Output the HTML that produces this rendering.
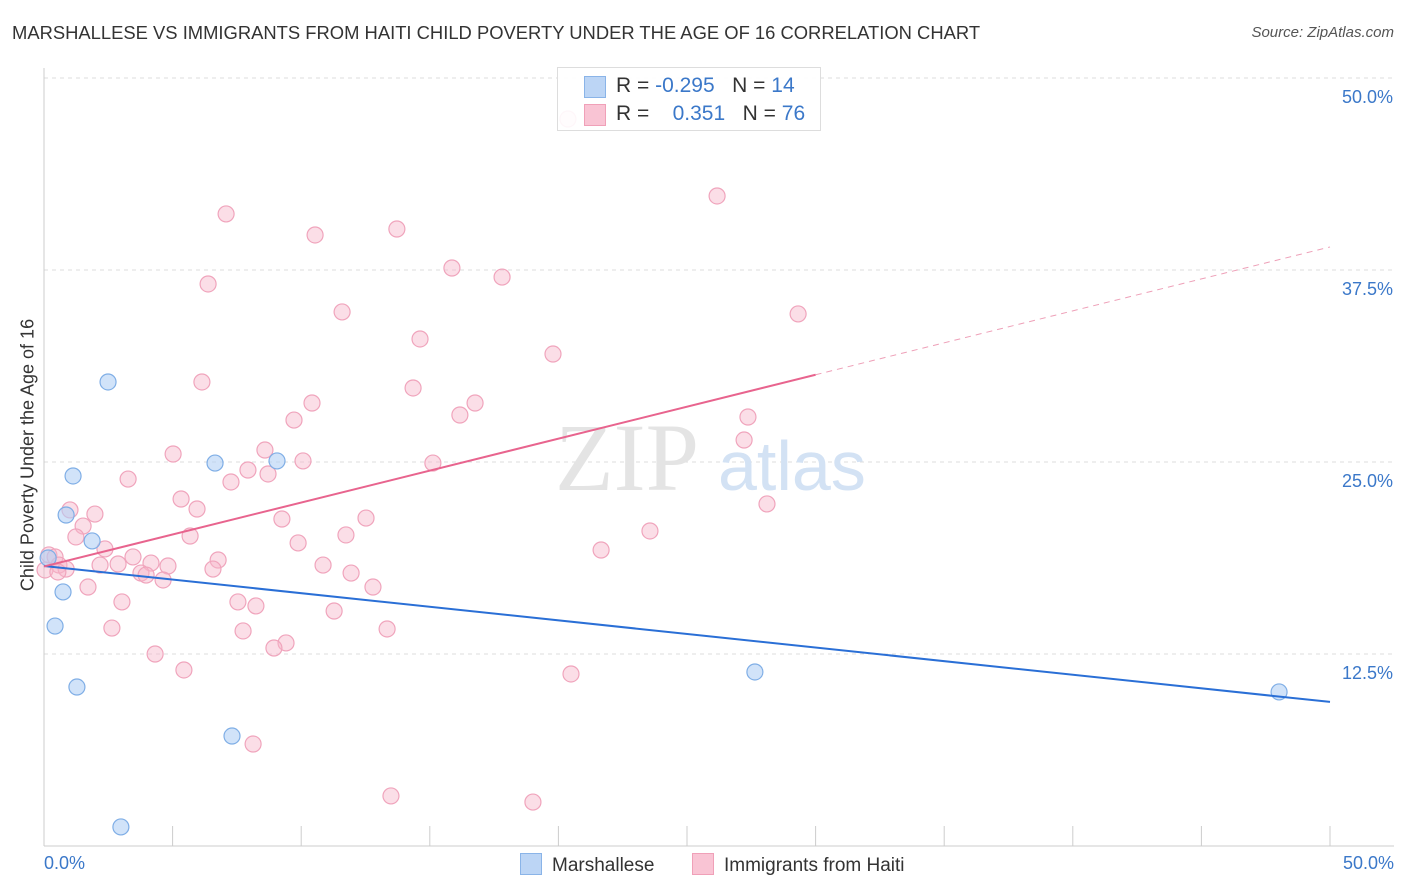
<!DOCTYPE html>
<html><head><meta charset="utf-8"><style>
body{margin:0;background:#fff;font-family:"Liberation Sans",sans-serif;}
#wrap{position:relative;width:1406px;height:892px;overflow:hidden;}
</style></head><body>
<div id="wrap">
<div style="position:absolute;left:12px;top:22px;font-size:18.4px;color:#333;">MARSHALLESE VS IMMIGRANTS FROM HAITI CHILD POVERTY UNDER THE AGE OF 16 CORRELATION CHART</div>
<div style="position:absolute;right:12px;top:24px;font-size:15px;color:#555;font-style:italic;">Source: ZipAtlas.com</div>
<svg id="svg" width="1406" height="892" style="position:absolute;left:0;top:0"></svg>
</div>
<script>
const blueX=[0.16,2.49,1.13,0.86,1.87,0.74,0.43,1.28,6.65,9.06,7.31,2.99,27.64,48.02];
const blueY=[18.75,30.21,24.09,21.55,19.86,16.54,14.32,10.35,24.93,25.07,7.16,1.24,11.33,10.03];
const pinkX=[20.37,26.17,7.08,10.54,13.72,6.38,15.86,17.81,11.59,29.32,14.62,19.79,6.14,14.35,10.42,16.76,16.17,9.72,27.37,27.22,5.02,8.59,3.27,10.07,15.12,7.93,7.27,8.71,5.33,28.11,1.01,1.98,5.95,9.25,12.52,1.52,23.56,1.24,5.68,11.74,9.88,21.66,2.37,3.46,6.77,0.19,0.43,0.58,4.16,0.86,2.18,2.88,4.82,6.57,10.85,11.94,3.77,3.97,4.63,1.71,12.79,3.03,7.54,8.24,11.28,2.64,7.74,13.34,9.41,8.94,4.32,5.44,20.49,8.13,13.49,19.01,0.04,0.54];
const pinkY=[47.33,42.32,41.15,39.78,40.17,36.59,37.63,37.04,34.77,34.64,33.01,32.03,30.21,29.82,28.84,28.84,28.06,27.73,27.93,26.43,25.52,25.78,23.89,25.07,24.93,24.48,23.70,24.22,22.59,22.27,21.88,21.61,21.94,21.29,21.35,20.83,20.51,20.12,20.18,20.25,19.73,19.27,19.34,18.82,18.62,18.95,18.82,18.29,18.42,18.03,18.29,18.36,18.23,18.03,18.29,17.77,17.77,17.64,17.32,16.86,16.86,15.89,15.89,15.63,15.30,14.19,14.00,14.13,13.22,12.89,12.50,11.46,11.20,6.64,3.26,2.86,17.97,17.84];
const yTicks=[12.5,25,37.5,50];
const yTickLabels=["12.5%","25.0%","37.5%","50.0%"];
const blueTrend=[18.23,9.38];
const pinkTrend=[18.2,0.416];
const NS="http://www.w3.org/2000/svg";
const svg=document.getElementById('svg');
const X=v=>44+v*25.72, Y=v=>846-v*15.36;
function mk(t,a){const e=document.createElementNS(NS,t);for(const k in a)e.setAttribute(k,a[k]);svg.appendChild(e);return e;}
yTicks.forEach((t,i)=>{
 let l=mk('line',{x1:44,x2:1394,y1:Y(t),y2:Y(t),stroke:'#ddd','stroke-dasharray':'4,4'});
 
 
 let tx=mk('text',{x:1393,y:Y(t)+25,'text-anchor':'end','font-size':18,fill:'#3b78c9'});
 tx.textContent=yTickLabels[i];
 
 
});
mk('line',{x1:44,x2:44,y1:68,y2:846,stroke:'#ccc'});
mk('line',{x1:44,x2:1394,y1:846,y2:846,stroke:'#ccc'});
for(let i=0;i<=10;i++){let l=mk('line',{x1:X(i*5),x2:X(i*5),y1:826,y2:846,stroke:'#ccc'});}
let wm=mk('text',{x:555,y:490,'font-size':96,fill:'#e4e4e4','font-family':'Liberation Serif'});wm.textContent='ZIP';


let wm2=mk('text',{x:718,y:490,'font-size':70,fill:'#d3e2f4'});wm2.textContent='atlas';


pinkX.forEach((x,i)=>{let c=mk('circle',{cx:X(x),cy:Y(pinkY[i]),r:8,fill:'rgba(247,182,202,0.45)',stroke:'#f0a4bc','stroke-width':1.2});
 
 });
blueX.forEach((x,i)=>{let c=mk('circle',{cx:X(x),cy:Y(blueY[i]),r:8,fill:'rgba(178,208,245,0.6)',stroke:'#7faee6','stroke-width':1.2});
 
 });
let bl=mk('line',{x1:X(0),y1:Y(blueTrend[0]),x2:X(50),y2:Y(blueTrend[1]),stroke:'#2a6fd6','stroke-width':2});


let pl=mk('line',{x1:X(0),y1:Y(pinkTrend[0]),x2:X(30),y2:Y(pinkTrend[0]+30*pinkTrend[1]),stroke:'#e8648e','stroke-width':2});


let pd=mk('line',{x1:X(30),y1:Y(pinkTrend[0]+30*pinkTrend[1]),x2:X(50),y2:Y(pinkTrend[0]+50*pinkTrend[1]),stroke:'#eea0b8','stroke-width':1,'stroke-dasharray':'6,5'});


</script>
<div style="position:absolute;left:44px;top:853px;font-size:18px;color:#3b78c9;">0.0%</div>
<div style="position:absolute;right:12px;top:853px;font-size:18px;color:#3b78c9;">50.0%</div>
<div style="position:absolute;left:28px;top:455px;transform:translate(-50%,-50%) rotate(-90deg);font-size:18px;color:#333;white-space:nowrap;">Child Poverty Under the Age of 16</div>
<div style="position:absolute;left:557px;top:67px;width:262px;height:62px;border:1px solid #ddd;background:rgba(255,255,255,0.9);font-size:21px;color:#333;">
 <div style="position:absolute;left:26px;top:8px;width:20px;height:20px;background:#bcd5f5;border:1px solid #8ab4e8;"></div>
 <div style="position:absolute;left:58px;top:6px;">R = <span style="color:#3b78c9">-0.295</span>&nbsp;&nbsp;&nbsp;N = <span style="color:#3b78c9">14</span></div>
 <div style="position:absolute;left:26px;top:36px;width:20px;height:20px;background:#f9c4d4;border:1px solid #f0a0b8;"></div>
 <div style="position:absolute;left:58px;top:34px;">R = &nbsp;&nbsp;&nbsp;<span style="color:#3b78c9">0.351</span>&nbsp;&nbsp;&nbsp;N = <span style="color:#3b78c9">76</span></div>
</div>
<div style="position:absolute;left:520px;top:853px;font-size:19px;color:#333;"><span style="display:inline-block;width:20px;height:20px;background:#bcd5f5;border:1px solid #8ab4e8;vertical-align:-4px;margin-right:10px;"></span>Marshallese</div>
<div style="position:absolute;left:692px;top:853px;font-size:19px;color:#333;"><span style="display:inline-block;width:20px;height:20px;background:#f9c4d4;border:1px solid #f0a0b8;vertical-align:-4px;margin-right:10px;"></span>Immigrants from Haiti</div>
</body></html>
